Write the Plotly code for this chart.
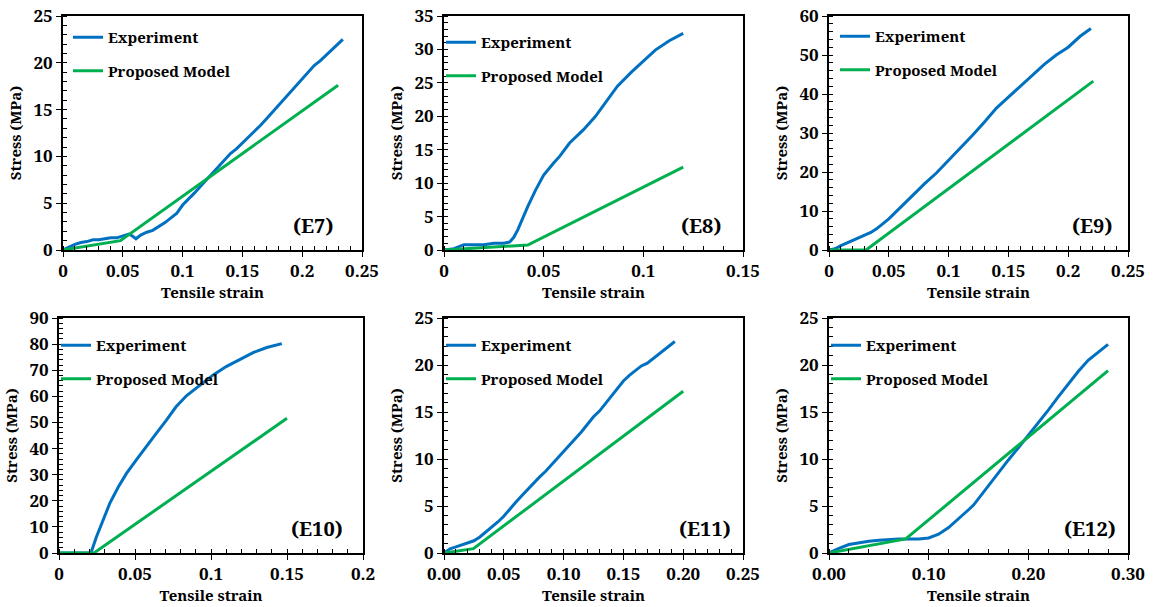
import plotly.graph_objects as go

W, H = 1155, 607

# ---------------- data ----------------
e7_exp_x = [0, 0.005, 0.01, 0.015, 0.02, 0.025, 0.03, 0.035, 0.04, 0.045, 0.05, 0.055, 0.058, 0.061,
            0.065, 0.07, 0.075, 0.08, 0.085, 0.09, 0.095, 0.1, 0.105, 0.11, 0.115, 0.12, 0.125, 0.13,
            0.135, 0.14, 0.145, 0.15, 0.155, 0.16, 0.165, 0.17, 0.175, 0.18, 0.185, 0.19, 0.195, 0.2,
            0.205, 0.21, 0.215, 0.22, 0.225, 0.23, 0.234]
e7_exp_y = [0, 0.3, 0.6, 0.8, 0.9, 1.1, 1.1, 1.2, 1.3, 1.3, 1.5, 1.7, 1.5, 1.2,
            1.6, 1.9, 2.1, 2.5, 2.9, 3.4, 3.9, 4.8, 5.4, 6.1, 6.8, 7.5, 8.2, 8.9,
            9.6, 10.3, 10.8, 11.4, 12.0, 12.6, 13.3, 14.0, 14.7, 15.5, 16.2, 16.9, 17.5, 18.2,
            18.9, 19.7, 20.2, 20.8, 21.4, 22.0, 22.5]
e7_mod_x = [0, 0.048, 0.23]
e7_mod_y = [0, 1.0, 17.6]

e8_exp_x = [0, 0.005, 0.01, 0.015, 0.02, 0.025, 0.03, 0.033, 0.035, 0.037, 0.039, 0.042, 0.046, 0.05,
            0.055, 0.058, 0.063, 0.07, 0.076, 0.081, 0.087, 0.094, 0.1, 0.106, 0.113, 0.12]
e8_exp_y = [0, 0.2, 0.8, 0.8, 0.8, 1.0, 1.0, 1.2, 1.9, 3.0, 4.5, 6.5, 9.0, 11.2,
            13.0, 14.0, 16.0, 18.0, 20.0, 22.0, 24.5, 26.6, 28.2, 29.9, 31.3, 32.4]
e8_mod_x = [0, 0.042, 0.12]
e8_mod_y = [0, 0.75, 12.4]

e9_exp_x = [0, 0.005, 0.01, 0.02, 0.025, 0.03, 0.035, 0.04, 0.045, 0.05, 0.06, 0.07, 0.08, 0.09,
            0.1, 0.11, 0.12, 0.13, 0.14, 0.15, 0.16, 0.17, 0.18, 0.19, 0.2, 0.21, 0.219]
e9_exp_y = [0, 0.3, 1.1, 2.4, 3.0, 3.7, 4.5, 5.5, 6.8, 8.0, 11.0, 14.1, 17.0, 19.8,
            23.0, 26.0, 29.4, 32.8, 36.4, 39.2, 42.0, 44.8, 47.6, 50.0, 52.0, 54.8, 56.8]
e9_mod_x = [0, 0.031, 0.221]
e9_mod_y = [0, 0, 43.3]

e10_exp_x = [0, 0.021, 0.0246, 0.028, 0.0334, 0.039, 0.0444, 0.051, 0.0576, 0.064, 0.0708, 0.077,
             0.084, 0.0927, 0.1015, 0.11, 0.119, 0.128, 0.1367, 0.1466]
e10_exp_y = [0, 0, 6.1, 11.3, 19.0, 25.3, 30.5, 35.8, 40.7, 45.8, 51.0, 56.0,
             60.3, 64.4, 68.2, 71.4, 74.0, 76.8, 78.7, 80.2]
e10_mod_x = [0, 0.023, 0.15]
e10_mod_y = [0, 0, 51.6]

e11_exp_x = [0, 0.005, 0.01, 0.02, 0.025, 0.03, 0.035, 0.04, 0.045, 0.05, 0.055, 0.06, 0.065, 0.07,
             0.075, 0.08, 0.085, 0.09, 0.095, 0.1, 0.105, 0.11, 0.115, 0.12, 0.125, 0.13, 0.135,
             0.14, 0.145, 0.15, 0.155, 0.16, 0.165, 0.17, 0.175, 0.18, 0.185, 0.19, 0.193]
e11_exp_y = [0, 0.45, 0.65, 1.1, 1.3, 1.7, 2.2, 2.8, 3.3, 3.9, 4.7, 5.4, 6.1, 6.8,
             7.5, 8.1, 8.7, 9.4, 10.1, 10.7, 11.4, 12.1, 12.9, 13.7, 14.5, 15.1, 15.9,
             16.7, 17.5, 18.3, 18.9, 19.4, 19.9, 20.2, 20.7, 21.3, 21.8, 22.2, 22.5]
e11_mod_x = [0, 0.0246, 0.2]
e11_mod_y = [0, 0.46, 17.2]

e12_exp_x = [0, 0.01, 0.02, 0.03, 0.04, 0.05, 0.06, 0.07, 0.08, 0.09, 0.1, 0.105, 0.11, 0.12, 0.13,
             0.14, 0.145, 0.15, 0.16, 0.17, 0.18, 0.19, 0.2, 0.21, 0.22, 0.23, 0.24, 0.25, 0.26,
             0.27, 0.28]
e12_exp_y = [0, 0.5, 0.9, 1.1, 1.25, 1.35, 1.45, 1.5, 1.5, 1.5, 1.6, 1.8, 2.0, 2.7, 3.6,
             4.6, 5.1, 5.8, 7.2, 8.6, 9.9, 11.2, 12.5, 13.9, 15.2, 16.6, 18.0, 19.3, 20.5,
             21.4, 22.2]
e12_mod_x = [0, 0.077, 0.28]
e12_mod_y = [0, 1.5, 19.4]

panel_labels = ["(E7)", "(E8)", "(E9)", "(E10)", "(E11)", "(E12)"]
series_names = ["Experiment", "Proposed Model"]
x_title = "Tensile strain"
y_title = "Stress (MPa)"

# ---------------- layout settings ----------------
BLUE = "#0070C0"
GREEN = "#00B050"
FONT = "Noto Serif"

# pixel boxes: left, right, top, bottom
boxes = [(63, 362, 16, 250), (444, 743, 16, 250), (829, 1128, 16, 250),
         (59, 363, 318, 553), (444, 743, 318, 553), (829, 1128, 318, 553)]
xranges = [[0, 0.25], [0, 0.15], [0, 0.25], [0, 0.2], [0, 0.25], [0, 0.3]]
xdticks = [0.05, 0.05, 0.05, 0.05, 0.05, 0.1]
xminor = [0.01, 0.01, 0.01, 0.01, 0.01, 0.02]
xfmt = ["", "", "", "", ".2f", ".2f"]
yranges = [[0, 25], [0, 35], [0, 60], [0, 90], [0, 25], [0, 25]]
ydticks = [5, 5, 10, 10, 5, 5]
yminor = [1, 1, 2, 2, 1, 1]
# legend anchor (left px, top px)
legpos = [(68, 21), (441, 26), (835, 20), (56, 329), (441, 329), (826, 329)]
labpos = [(313, 225), (701, 225), (1092, 225), (317, 528), (705, 528), (1090, 528)]

data = [(e7_exp_x, e7_exp_y, e7_mod_x, e7_mod_y),
        (e8_exp_x, e8_exp_y, e8_mod_x, e8_mod_y),
        (e9_exp_x, e9_exp_y, e9_mod_x, e9_mod_y),
        (e10_exp_x, e10_exp_y, e10_mod_x, e10_mod_y),
        (e11_exp_x, e11_exp_y, e11_mod_x, e11_mod_y),
        (e12_exp_x, e12_exp_y, e12_mod_x, e12_mod_y)]

fig = go.Figure()
layout = {}
annotations = []
for i, (ex, ey, mx, my) in enumerate(data):
    n = i + 1
    sfx = "" if n == 1 else str(n)
    leg = "legend" if n == 1 else f"legend{n}"
    fig.add_trace(go.Scatter(x=ex, y=ey, mode="lines", name=series_names[0],
                             line=dict(color=BLUE, width=3), xaxis=f"x{sfx}", yaxis=f"y{sfx}",
                             legend=leg, legendgroup=f"a{n}"))
    fig.add_trace(go.Scatter(x=mx, y=my, mode="lines", name=series_names[1],
                             line=dict(color=GREEN, width=3), xaxis=f"x{sfx}", yaxis=f"y{sfx}",
                             legend=leg, legendgroup=f"b{n}"))
    l, r, t, b = boxes[i]
    axis_common = dict(showline=True, linecolor="black", linewidth=2, mirror=True,
                       showgrid=False, zeroline=False, ticks="outside", ticklen=5,
                       tickcolor="black", tickwidth=1, automargin=False,
                       tickfont=dict(family=FONT, size=17, color="black", weight="bold"))
    layout[f"xaxis{sfx}"] = dict(axis_common, domain=[l / W, r / W], anchor=f"y{sfx}",
                                 range=xranges[i], dtick=xdticks[i], tick0=0, tickformat=xfmt[i],
                                 minor=dict(ticks="inside", dtick=xminor[i], ticklen=4,
                                            tickcolor="black", tickwidth=1, showgrid=False),
                                 title=dict(text=x_title, standoff=3,
                                            font=dict(family=FONT, size=15, color="black",
                                                      weight="bold")))
    layout[f"yaxis{sfx}"] = dict(axis_common, domain=[1 - b / H, 1 - t / H], anchor=f"x{sfx}",
                                 range=yranges[i], dtick=ydticks[i], tick0=0,
                                 minor=dict(ticks="inside", dtick=yminor[i], ticklen=4,
                                            tickcolor="black", tickwidth=1, showgrid=False),
                                 title=dict(text=y_title, standoff=8,
                                            font=dict(family=FONT, size=15, color="black",
                                                      weight="bold")))
    lx, ly = legpos[i]
    layout[leg] = dict(x=lx / W, y=1 - ly / H, xanchor="left", yanchor="top",
                       bgcolor="rgba(0,0,0,0)", borderwidth=0, tracegroupgap=11,
                       traceorder="grouped",
                       font=dict(family=FONT, size=15, color="black", weight="bold"))
    px, py = labpos[i]
    annotations.append(dict(text=panel_labels[i], x=px / W, y=1 - py / H, xref="paper",
                            yref="paper", showarrow=False, xanchor="center", yanchor="middle",
                            font=dict(family=FONT, size=20, color="black", weight="bold")))

fig.update_layout(**layout)
fig.update_layout(width=W, height=H, margin=dict(l=0, r=0, t=0, b=0),
                  paper_bgcolor="white", plot_bgcolor="white",
                  annotations=annotations, showlegend=True)
fig.write_html("out.html", config={"displayModeBar": False},
               post_script="document.body.style.margin='0px';")
